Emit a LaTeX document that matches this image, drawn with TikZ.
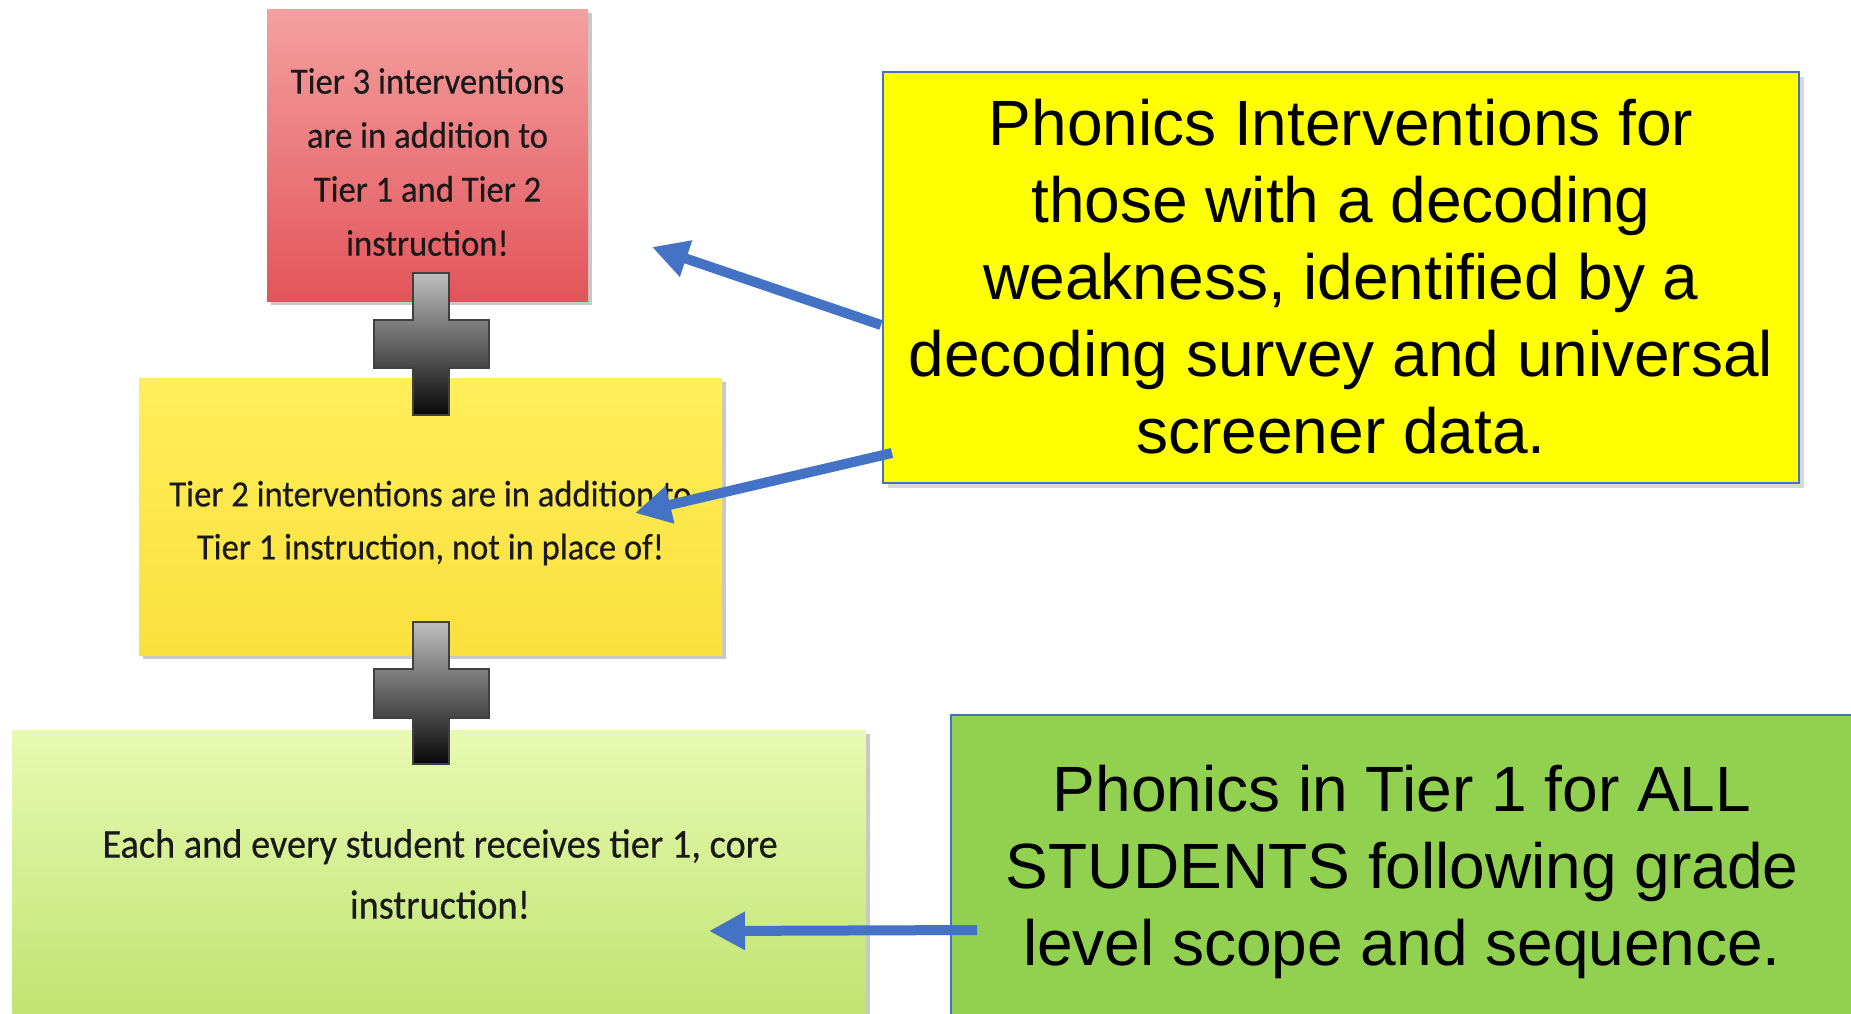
\documentclass[tikz,border=0pt]{standalone}
\usepackage{fontspec}
\newfontfamily\tierfont[FakeStretch=0.935,FakeBold=0.4]{Carlito}
\newfontfamily\calfont{Liberation Sans}
\usetikzlibrary{arrows.meta,shadows,calc}
\definecolor{redtop}{RGB}{244,160,160}
\definecolor{redbot}{RGB}{226,84,90}
\definecolor{yeltop}{RGB}{255,238,92}
\definecolor{yelbot}{RGB}{250,224,60}
\definecolor{grntop}{RGB}{232,250,178}
\definecolor{grnbot}{RGB}{190,226,110}
\definecolor{calyel}{RGB}{255,255,0}
\definecolor{calgrn}{RGB}{146,208,80}
\definecolor{calblue}{RGB}{68,114,196}
\definecolor{crosstop}{RGB}{190,190,190}
\definecolor{crossbot}{RGB}{8,8,8}
\begin{document}
\begin{tikzpicture}[x=1pt,y=-1pt,
  tierbox/.style={rectangle,inner sep=0pt,
    drop shadow={shadow xshift=4pt,shadow yshift=-4pt,opacity=0.3,fill=black!70}},
  tiertext/.style={align=center,inner sep=0pt,text=black!90},
  callout/.style={rectangle,draw=calblue,line width=2pt,inner sep=0pt,align=center,
    font=\calfont\fontsize{64}{77}\selectfont,
    drop shadow={shadow xshift=5pt,shadow yshift=-5pt,opacity=0.25,fill=black!60}},
  crossst/.style={top color=crosstop,bottom color=crossbot,draw=black!75,line width=1.2pt},
  arr/.style={draw=calblue,line width=10pt,-{Triangle[length=36pt,width=36pt]}}
]
\useasboundingbox (0,0) rectangle (1851,1013);
\clip (0,0) rectangle (1851,1013);
\fill[white] (0,0) rectangle (1851,1013);

% tier boxes
\node[tierbox,top color=redtop,bottom color=redbot,minimum width=321pt,minimum height=292pt] (t3) at (427.5,155) {};
\node[tierbox,top color=yeltop,bottom color=yelbot,minimum width=583pt,minimum height=277pt] (t2) at (430.5,516.5) {};
\node[tierbox,top color=grntop,bottom color=grnbot,minimum width=854pt,minimum height=300pt] (t1) at (439,880) {};

\node[tiertext,font=\tierfont\fontsize{37}{54}\selectfont] (t3txt) at ([yshift=-7pt]t3.center)
  {Tier 3 interventions\\are in addition to\\Tier 1 and Tier 2\\instruction!};
\node[tiertext,font=\tierfont\fontsize{37}{53}\selectfont] (t2txt) at ([yshift=-6.5pt]t2.center)
  {Tier 2 interventions are in addition to\\Tier 1 instruction, not in place of!};
\node[tiertext,font=\tierfont\fontsize{41}{61}\selectfont] (t1txt) at (440,874)
  {Each and every student receives tier 1, core\\instruction!};

% plus signs
\draw[crossst] (413,273) -- (449,273) -- (449,320) -- (489,320) -- (489,368) -- (449,368)
  -- (449,415) -- (413,415) -- (413,368) -- (374,368) -- (374,320) -- (413,320) -- cycle;
\draw[crossst] (413,622) -- (449,622) -- (449,669) -- (489,669) -- (489,718) -- (449,718)
  -- (449,764) -- (413,764) -- (413,718) -- (374,718) -- (374,669) -- (413,669) -- cycle;

% callouts
\node[callout,fill=calyel,minimum width=916pt,minimum height=411pt] (cy) at (1341,277)
  {Phonics Interventions for\\those with a decoding\\weakness, identified by a\\decoding survey and universal\\screener data.};
\node[callout,fill=calgrn,minimum width=902pt,minimum height=314pt] (gc) at (1402,872)
  {Phonics in Tier 1 for ALL\\STUDENTS following grade\\level scope and sequence.};

% arrows
\coordinate (p1) at (652,247);
\coordinate (p2) at (635,513);
\coordinate (p3) at (709,931);
\draw[arr] ([shift={(-1pt,-48pt)}]cy.west) -- (p1);
\draw[arr] ([shift={(10pt,-176pt)}]cy.west) -- (p2);
\draw[arr] ([shift={(27pt,-58pt)}]gc.west) -- (p3);
\end{tikzpicture}
\end{document}
